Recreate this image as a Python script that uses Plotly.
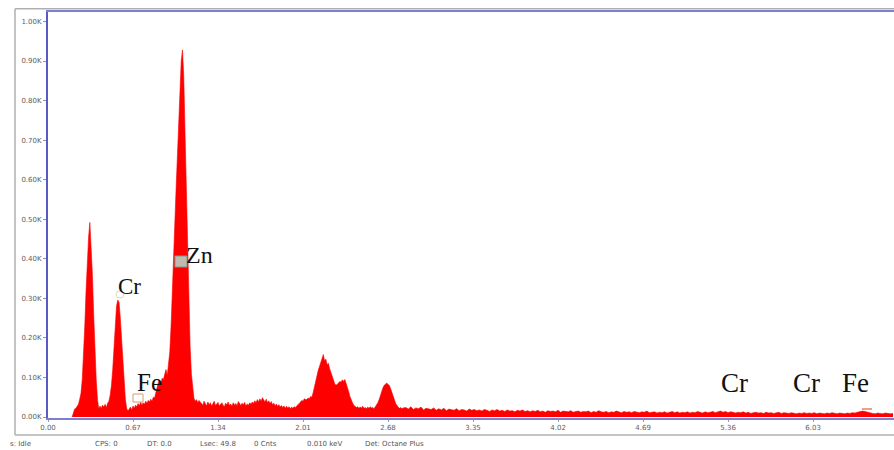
import plotly.graph_objects as go

# ---------------- data (counts) ----------------
# segment A: 0.19 keV .. 1.20 keV, step 0.01 keV
seg_a_start = 0.19
seg_a_counts = [
    0, 12, 20, 22, 28, 32, 45, 60, 95, 150,            # 0.19-0.28
    230, 320, 400, 455, 492, 440, 360, 260, 170, 95,   # 0.29-0.38
    45, 20, 28, 22, 30, 25, 32, 24, 35, 40,            # 0.39-0.48
    55, 80, 120, 180, 240, 280, 296, 290, 250, 190,    # 0.49-0.58
    130, 80, 45, 22, 15, 20, 25, 18, 28, 22,           # 0.59-0.68
    30, 26, 34, 28, 38, 30, 36, 32, 40, 35,            # 0.69-0.78
    42, 38, 45, 40, 50, 48, 62, 80, 88, 92,            # 0.79-0.88
    86, 98, 95, 108, 120, 105, 130, 165, 230, 330,     # 0.89-0.98
    420, 500, 580, 660, 740, 830, 900, 928, 860, 720,  # 0.99-1.08
    570, 420, 290, 180, 110, 70, 48, 40, 44, 36,       # 1.09-1.18
    42, 38,                                            # 1.19-1.20
]
# segment B: 1.21 keV .. 2.03 keV, step 0.01 keV (background)
seg_b_start = 1.21
seg_b_counts = [
    35, 30, 40, 33, 28, 38, 31, 36, 27, 34,
    40, 29, 33, 37, 28, 32, 36, 30, 26, 35,
    31, 38, 29, 33, 27, 36, 30, 34, 28, 39,
    32, 29, 35, 31, 37, 28, 33, 30, 36, 32,
    38, 34, 41, 36, 44, 38, 46, 40, 49, 42,
    38, 45, 36, 41, 34, 39, 31, 35, 28, 33,
    27, 31, 25, 29, 24, 28, 22, 27, 23, 26,
    21, 25, 22, 26, 24, 28, 30, 34, 38, 42,
    40, 46, 44,
]
# segment C: 2.04 keV .. 2.80 keV, step 0.01 keV
seg_c_start = 2.04
seg_c_counts = [
    44, 48, 46, 52, 50, 62, 78, 92, 104, 118,
    128, 138, 150, 158, 142, 146, 132, 136, 122, 112,
    100, 92, 84, 80, 82, 86, 90, 88, 94, 90,
    95, 86, 78, 64, 52, 42, 36, 30, 28, 24,
    26, 22, 25, 23, 27, 22, 24, 21, 25, 22,
    26, 23, 24, 21, 26, 30, 36, 44, 56, 66,
    74, 80, 84, 86, 82, 80, 72, 64, 56, 44,
    34, 28, 25, 22, 24, 21, 23,
]
# segment D: 2.82 keV .. 6.66 keV, step 0.02 keV
seg_d_start = 2.82
seg_d_counts = [
    24, 20, 26, 19, 23, 21, 25, 18, 22, 20,
    19, 23, 17, 21, 18, 22, 16, 20, 19, 17,
    21, 16, 19, 18, 15, 20, 17, 19, 16, 18,
    15, 19, 17, 14, 18, 16, 19, 15, 17, 14,
    18, 15, 16, 13, 17, 15, 18, 14, 16, 13,
    16, 14, 17, 13, 15, 12, 16, 14, 15, 13,
    17, 12, 15, 14, 13, 16, 12, 14, 15, 12,
    14, 13, 15, 11, 14, 12, 16, 13, 12, 14,
    11, 13, 12, 15, 12, 11, 14, 12, 13, 11,
    14, 12, 11, 13, 12, 15, 11, 12, 13, 10,
    12, 11, 13, 10, 12, 14, 11, 13, 10, 12,
    11, 13, 10, 12, 11, 14, 12, 10, 13, 11,
    12, 14, 11, 13, 15, 12, 14, 11, 13, 12,
    10, 12, 11, 13, 10, 12, 9, 11, 12, 10,
    11, 9, 12, 10, 11, 9, 10, 12, 9, 11,
    10, 9, 11, 10, 8, 10, 9, 11, 9, 10,
    9, 11, 8, 10, 9, 8, 10, 9, 11, 9,
    8, 10, 9, 8, 10, 9, 11, 10, 12, 13,
    15, 14, 12, 10, 9, 8, 10, 9, 8, 10,
    9, 8, 9,
]

x_tick_vals = [0.00, 0.67, 1.34, 2.01, 2.68, 3.35, 4.02, 4.69, 5.36, 6.03]
x_tick_text = ["0.00", "0.67", "1.34", "2.01", "2.68", "3.35", "4.02", "4.69", "5.36", "6.03"]
y_tick_vals = [0, 100, 200, 300, 400, 500, 600, 700, 800, 900, 1000]
y_tick_text = ["0.00K", "0.10K", "0.20K", "0.30K", "0.40K", "0.50K",
               "0.60K", "0.70K", "0.80K", "0.90K", "1.00K"]

element_labels = ["Cr", "Zn", "Fe", "Cr", "Cr", "Fe"]
status_texts = ["s: Idle", "CPS: 0", "DT: 0.0", "Lsec: 49.8", "0 Cnts",
                "0.010 keV", "Det: Octane Plus"]

# ---------------- build the channel axis ----------------
energy, counts = [], []
for start, step, vals in [(seg_a_start, 0.01, seg_a_counts),
                          (seg_b_start, 0.01, seg_b_counts),
                          (seg_c_start, 0.01, seg_c_counts),
                          (seg_d_start, 0.02, seg_d_counts)]:
    for i, v in enumerate(vals):
        energy.append(round(start + i * step, 4))
        counts.append(v)

# ---------------- layout geometry (reference pixels) ----------------
W, H = 894, 450
L, R, T, B = 48, 0, 12, 450 - 418
PW, PH = W - L - R, H - T - B


def px(xp):
    return (xp - L) / PW


def py(yp):
    return (H - B - yp) / PH


fig = go.Figure()
fig.add_trace(go.Scatter(
    x=energy, y=counts, mode="lines",
    line=dict(color="#ff0000", width=0.6),
    fill="tozeroy", fillcolor="#ff0000",
    hoverinfo="skip", showlegend=False,
))

tick_font = dict(family="DejaVu Sans, sans-serif", size=7, color="#606060")
fig.update_layout(
    width=W, height=H,
    margin=dict(l=L, r=R, t=T, b=B, pad=0),
    paper_bgcolor="white", plot_bgcolor="white",
    xaxis=dict(range=[0, 6.668], tickvals=x_tick_vals, ticktext=x_tick_text,
               showgrid=False, zeroline=False, showline=True, mirror=True,
               linecolor="#7f7fd2", linewidth=2, ticks="outside", ticklen=2,
               tickcolor="#9a9a9a", tickfont=tick_font),
    yaxis=dict(range=[-2.5, 1024], tickvals=y_tick_vals, ticktext=y_tick_text,
               showgrid=False, zeroline=False, showline=True,
               linecolor="#5a5ac4", linewidth=2, ticks="outside", ticklen=3,
               tickcolor="#9a9a9a", tickfont=tick_font),
)

shapes = []
# outer gray frame of the window
gray = "#b0b0b0"
shapes.append(dict(type="line", xref="paper", yref="paper", x0=px(15), x1=px(900),
                   y0=py(8.8), y1=py(8.8), line=dict(color=gray, width=1.5)))
shapes.append(dict(type="line", xref="paper", yref="paper", x0=px(15), x1=px(15),
                   y0=py(8.8), y1=py(435), line=dict(color=gray, width=1.5)))
shapes.append(dict(type="line", xref="paper", yref="paper", x0=px(15), x1=px(900),
                   y0=py(435), y1=py(435), line=dict(color=gray, width=1.5)))
# small element marker boxes
shapes.append(dict(type="rect", xref="paper", yref="paper", x0=px(175), x1=px(187),
                   y0=py(267), y1=py(256), line=dict(color="#7a9a88", width=1),
                   fillcolor="rgba(190,205,195,0.9)"))
shapes.append(dict(type="rect", xref="paper", yref="paper", x0=px(133), x1=px(143),
                   y0=py(402), y1=py(394), line=dict(color="#d0a070", width=1),
                   fillcolor="rgba(255,255,255,0.9)"))
shapes.append(dict(type="circle", xref="paper", yref="paper", x0=px(116), x1=px(124),
                   y0=py(298), y1=py(291), line=dict(color="#e6d6b0", width=1)))
shapes.append(dict(type="line", xref="paper", yref="paper", x0=px(862), x1=px(872),
                   y0=py(409), y1=py(409), line=dict(color="#e06040", width=1.2)))
fig.update_layout(shapes=shapes)

# element labels (left pixel, centre pixel, font size) in reference pixels
label_pos = [(116, 286, 23), (184, 255, 24), (135, 382, 25),
             (719, 383, 27), (791, 383, 27), (840, 383, 27)]
annotations = []
for text, (xl, yc, fs) in zip(element_labels, label_pos):
    annotations.append(dict(text=text, xref="paper", yref="paper", x=px(xl), y=py(yc),
                            xanchor="left", yanchor="middle", showarrow=False,
                            font=dict(family="Liberation Serif, Times New Roman, serif",
                                      size=fs, color="#111111")))
status_x = [8, 93, 145, 198, 252, 305, 363]
for text, xl in zip(status_texts, status_x):
    annotations.append(dict(text=text, xref="paper", yref="paper", x=px(xl), y=py(444),
                            xanchor="left", yanchor="middle", showarrow=False,
                            font=dict(family="DejaVu Sans, sans-serif", size=7,
                                      color="#555555")))
fig.update_layout(annotations=annotations)

# remove the browser's default 8 px page margin so the figure sits at (0, 0)
fig.write_html("out.html",
               config={"displayModeBar": False},
               post_script="document.body.style.margin='0';"
                           "document.body.style.overflow='hidden';")
